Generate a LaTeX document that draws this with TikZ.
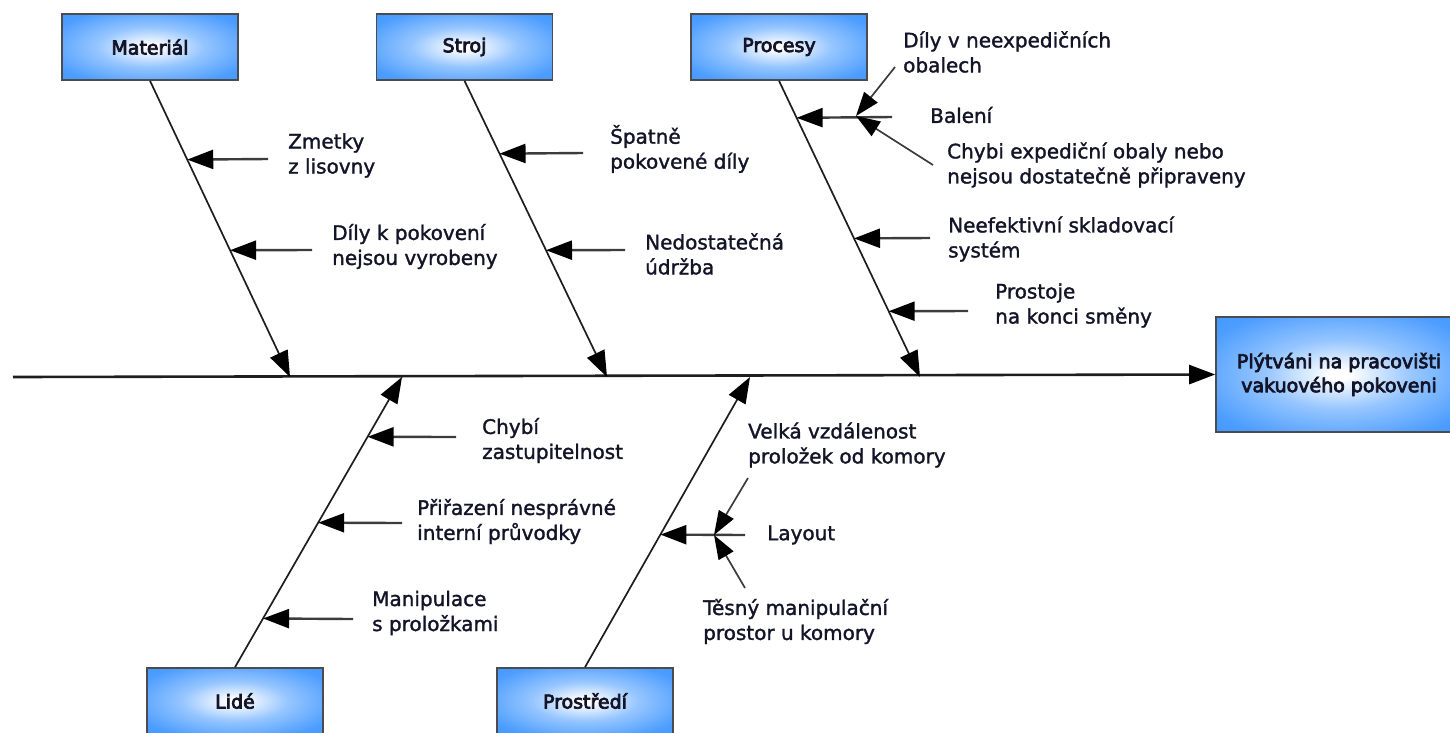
\documentclass[tikz,border=0pt]{standalone}
\usepackage{fontspec}
\setmainfont{DejaVu Sans}[FakeBold=1.5]
\newfontfamily\boxfont{DejaVu Sans}[FakeBold=4]
\usetikzlibrary{arrows.meta,calc}

\definecolor{boxblue}{RGB}{45,140,255}
\definecolor{boxedge}{RGB}{75,75,80}
\definecolor{txtcol}{RGB}{20,20,40}
\definecolor{linecol}{RGB}{30,30,30}
\definecolor{causecol}{RGB}{60,60,60}

\pgfdeclareradialshading{boxshade}{\pgfpoint{0bp}{0bp}}{%
  color(0bp)=(white); color(2bp)=(white); color(15bp)=(boxblue!50);
  color(30bp)=(boxblue!85); color(50bp)=(boxblue)}

\tikzset{
  catbox/.style={draw=boxedge, line width=1.6pt, shading=boxshade,
    minimum width=176pt, minimum height=66pt, inner sep=0pt,
    font=\boxfont\fontsize{19}{24}\selectfont, text=txtcol, align=center},
  effbox/.style={catbox, minimum width=246pt, minimum height=115pt},
  txt/.style={anchor=west, align=left, inner sep=0pt,
    font=\fontsize{20}{25}\selectfont, text=txtcol},
  tip/.style={-{Triangle[length=26pt,width=19pt,color=black]}},
  spine/.style={tip, line width=2.6pt, draw=linecol},
  bone/.style={tip, line width=1.7pt, draw=linecol},
  cause/.style={tip, line width=2.4pt, draw=causecol},
  subcause/.style={-{Triangle[length=24pt,width=17pt,color=black]}, line width=1.7pt, draw=causecol}
}

\begin{document}
\begin{tikzpicture}[x=1pt,y=-1pt]
\useasboundingbox (0,0) rectangle (1450,732);

% category boxes
\node[catbox] (mat)   at (150,47)  {Materiál};
\node[catbox] (stroj) at (464.5,47) {Stroj};
\node[catbox] (proc)  at (779,47)  {Procesy};
\node[catbox] (lide)  at (235,701) {Lidé};
\node[catbox] (prost) at (585,701) {Prostředí};
\node[effbox] (eff)   at (1339,374.5) {Plýtváni na pracovišti\\vakuového pokoveni};

% spine
\coordinate (tail) at (13,377);
\draw[spine] (tail) -- (eff.west);

% bones meeting the spine
\coordinate (matE)   at (290,377);
\coordinate (strojE) at (607,377);
\coordinate (procE)  at (920,377);
\coordinate (lideE)  at (402,377);
\coordinate (prostE) at (750,377);
\draw[bone] (mat.south)   -- (matE);
\draw[bone] (stroj.south) -- (strojE);
\draw[bone] (proc.south)  -- (procE);
\draw[bone] (lide.north)  -- (lideE);
\draw[bone] (prost.north) -- (prostE);

% points on the bones
\coordinate (m1) at ($(mat.south)!0.266!(matE)$);
\coordinate (m2) at ($(mat.south)!0.572!(matE)$);
\coordinate (s1) at ($(stroj.south)!0.246!(strojE)$);
\coordinate (s2) at ($(stroj.south)!0.572!(strojE)$);
\coordinate (p1) at ($(proc.south)!0.125!(procE)$);
\coordinate (p2) at ($(proc.south)!0.532!(procE)$);
\coordinate (p3) at ($(proc.south)!0.778!(procE)$);
\coordinate (l1) at ($(lide.north)!0.794!(lideE)$);
\coordinate (l2) at ($(lide.north)!0.498!(lideE)$);
\coordinate (l3) at ($(lide.north)!0.168!(lideE)$);
\coordinate (e1) at ($(prost.north)!0.457!(prostE)$);

% cause arrow start points
\coordinate (m1s) at (268,159);
\coordinate (m2s) at (312,250);
\coordinate (s1s) at (583,153);
\coordinate (s2s) at (625,250);
\coordinate (p1s) at (892,117);
\coordinate (p2s) at (930,238);
\coordinate (p3s) at (968,311);
\coordinate (l1s) at (456,437);
\coordinate (l2s) at (402,523);
\coordinate (l3s) at (353,619);
\coordinate (e1s) at (745,535);

\draw[cause] (m1s) -- (m1);
\draw[cause] (m2s) -- (m2);
\draw[cause] (s1s) -- (s1);
\draw[cause] (s2s) -- (s2);
\draw[cause] (p1s) -- (p1);
\draw[cause] (p2s) -- (p2);
\draw[cause] (p3s) -- (p3);
\draw[cause] (l1s) -- (l1);
\draw[cause] (l2s) -- (l2);
\draw[cause] (l3s) -- (l3);
\draw[cause] (e1s) -- (e1);

% sub-causes of Balení and Layout
\coordinate (balJ) at (856,116);
\coordinate (bal1s) at (895,67);
\coordinate (bal2s) at (933,165);
\draw[subcause] (bal1s) -- (balJ);
\draw[subcause] (bal2s) -- (balJ);
\coordinate (layJ) at (714,535);
\coordinate (lay1s) at (748,478);
\coordinate (lay2s) at (745,588);
\draw[subcause] (lay1s) -- (layJ);
\draw[subcause] (lay2s) -- (layJ);

% labels
\node[txt] (tm1) at (288,155.5) {Zmetky\\z lisovny};
\node[txt] (tm2) at (332,246.5) {Díly k pokovení\\nejsou vyrobeny};
\node[txt] (ts1) at (610,149) {Špatně\\pokovené díly};
\node[txt] (ts2) at (645,254) {Nedostatečná\\údržba};
\node[txt] (tb1) at (903,52) {Díly v neexpedičních\\obalech};
\node[txt] (tp1) at (930,115) {Balení};
\node[txt] (tb2) at (947,165) {Chybi expediční obaly nebo\\nejsou dostatečně připraveny};
\node[txt] (tp2) at (948,239) {Neefektivní skladovací\\systém};
\node[txt] (tp3) at (995,305.5) {Prostoje\\na konci směny};
\node[txt] (tl1) at (482,440.5) {Chybí\\zastupitelnost};
\node[txt] (tl2) at (417,521.5) {Přiřazení nesprávné\\interní průvodky};
\node[txt] (tl3) at (372,613) {Manipulace\\s proložkami};
\node[txt] (ty1) at (748,445) {Velká vzdálenost\\proložek od komory};
\node[txt] (te1) at (767,535) {Layout};
\node[txt] (ty2) at (703,621.5) {Těsný manipulační\\prostor u komory};
\end{tikzpicture}
\end{document}
